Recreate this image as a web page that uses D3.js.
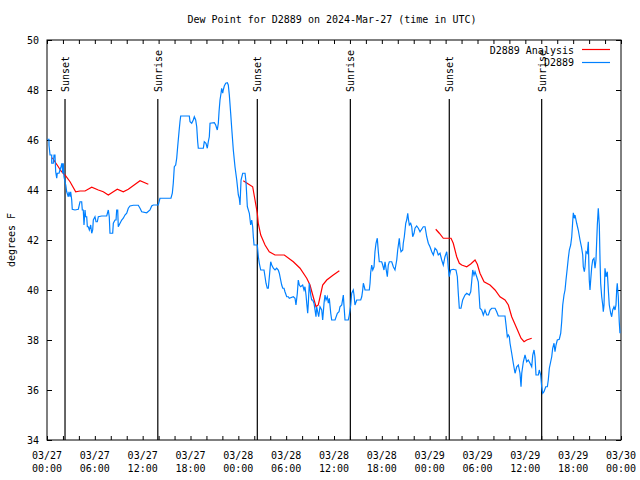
<!DOCTYPE html>
<html>
<head>
<meta charset="utf-8">
<script src="https://cdn.jsdelivr.net/npm/d3@7"></script>
<style>
  body { margin: 0; background: #fff; }
  text { font-family: "DejaVu Sans Mono", monospace; font-size: 10px; fill: #000; }
</style>
</head>
<body>
<div id="plot"></div>
<script>
// hours after 2024-03-27 00:00 UTC, dew point in F
const stationObs = [
  [0.04,46.03],[0.25,46.03],[0.25,45.8],[0.38,45.4],[0.59,45.4],[0.59,45.07],[0.79,45.07],[0.88,45.4],[1.0,45.4],
  [1.09,44.73],[1.22,44.47],[1.29,44.67],[1.51,44.67],[1.63,44.8],[1.76,44.93],[1.88,45.07],[1.97,44.67],[2.04,45.07],
  [2.13,44.53],[2.35,44.2],[2.47,43.93],[2.6,43.8],[2.67,43.73],[2.76,43.93],[2.89,43.73],[2.97,43.93],[3.1,43.6],
  [3.17,43.23],[3.51,43.2],[3.93,43.23],[4.14,43.53],[4.35,43.53],[4.43,43.2],[4.55,43.2],[4.64,42.6],[4.77,43.2],
  [4.85,42.93],[4.98,42.93],[5.06,42.53],[5.18,42.53],[5.31,42.4],[5.48,42.6],[5.61,42.27],[5.73,42.4],[5.81,42.8],
  [6.02,42.93],[6.15,42.73],[6.31,42.73],[6.44,42.93],[6.86,42.96],[7.49,42.96],[7.69,43.2],[7.81,42.93],[7.9,42.27],
  [8.24,42.27],[8.32,42.67],[8.53,42.8],[8.66,42.8],[8.74,43.2],[8.87,43.2],[8.94,42.53],[9.16,42.67],[9.37,42.8],
  [9.57,42.87],[9.78,43.0],[10.0,43.07],[10.2,43.27],[10.41,43.36],[10.83,43.39],[11.45,43.39],[11.67,43.27],
  [11.88,43.13],[12.51,43.09],[12.92,43.2],[13.13,43.36],[13.33,43.4],[13.96,43.4],[14.17,43.67],[15.55,43.67],
  [15.72,43.87],[15.84,44.27],[15.97,44.93],[16.14,45.0],[16.27,45.27],[16.39,45.73],[16.56,46.33],[16.68,46.73],
  [16.77,46.96],[17.85,46.96],[17.94,46.73],[18.15,46.67],[18.35,46.8],[18.48,46.93],[18.65,46.8],[18.78,46.53],
  [18.9,45.93],[18.98,45.67],[19.61,45.67],[19.73,45.93],[19.94,45.87],[20.11,45.67],[20.23,45.93],[20.36,46.13],
  [20.45,46.67],[20.99,46.69],[21.16,46.6],[21.36,46.4],[21.49,46.67],[21.58,47.13],[21.7,47.6],[21.83,47.87],
  [21.91,48.07],[22.04,47.87],[22.11,48.0],[22.24,48.16],[22.42,48.27],[22.62,48.29],[22.74,48.2],[22.87,47.8],
  [23.04,47.07],[23.17,46.47],[23.37,45.6],[23.58,44.93],[23.8,44.4],[24.0,43.8],[24.12,43.67],[24.21,43.4],
  [24.34,44.4],[24.55,44.67],[24.84,44.67],[24.96,44.33],[25.13,43.33],[25.38,43.07],[25.55,42.6],[25.68,42.8],
  [25.8,42.53],[25.88,42.13],[25.97,41.8],[26.38,41.8],[26.51,41.33],[26.63,41.07],[26.81,40.8],[27.22,40.8],
  [27.35,40.53],[27.47,40.27],[27.63,40.07],[27.76,40.07],[27.89,40.53],[28.06,41.13],[28.19,41.0],[28.39,40.87],
  [28.6,40.8],[28.81,40.87],[29.01,40.8],[29.14,40.67],[29.31,40.4],[29.44,40.2],[29.57,40.07],[29.73,40.07],
  [29.85,39.93],[30.07,39.73],[30.27,39.73],[30.39,39.67],[30.9,39.73],[31.11,39.67],[31.23,39.4],[31.4,39.87],
  [31.52,40.4],[31.65,40.2],[31.82,40.13],[32.07,40.2],[32.24,40.0],[32.36,40.13],[32.49,39.8],[32.58,39.47],
  [32.7,39.07],[32.78,39.47],[32.9,40.27],[33.08,39.8],[33.2,39.6],[33.33,39.6],[33.49,39.47],[33.62,39.2],
  [33.74,38.93],[33.83,39.33],[33.91,39.2],[34.08,38.93],[34.24,39.33],[34.46,39.2],[34.58,38.8],[34.75,39.47],
  [34.87,39.8],[35.0,39.6],[35.16,39.73],[35.29,39.47],[35.41,39.67],[35.59,39.07],[35.71,38.8],[36.13,38.8],
  [36.42,39.07],[36.63,39.13],[36.75,39.33],[36.97,39.4],[37.17,39.8],[37.25,39.4],[37.38,38.8],[37.79,38.8],
  [37.92,39.0],[38.1,39.4],[38.22,39.87],[38.42,40.0],[38.51,39.8],[38.63,39.4],[38.85,39.6],[39.35,39.6],
  [39.48,39.73],[39.6,40.0],[39.68,40.27],[39.8,40.13],[39.89,40.0],[40.43,40.0],[40.52,40.27],[40.6,40.69],
  [40.73,41.0],[40.86,40.8],[41.02,40.93],[41.14,41.53],[41.27,41.87],[41.43,42.07],[41.56,41.53],[41.68,41.13],
  [41.98,41.13],[42.11,41.0],[42.27,40.8],[42.4,41.13],[42.52,40.87],[42.69,40.53],[42.81,41.0],[42.94,41.13],
  [43.24,41.13],[43.44,40.93],[43.65,40.8],[43.87,41.2],[43.99,41.6],[44.19,42.07],[44.28,41.73],[44.41,41.53],
  [44.62,41.6],[44.69,41.87],[44.82,42.13],[45.0,42.67],[45.12,42.8],[45.25,43.07],[45.32,42.87],[45.45,42.6],
  [45.62,42.67],[45.75,42.53],[45.87,42.13],[46.04,42.27],[46.16,42.47],[46.37,42.56],[46.58,42.47],[46.79,42.33],
  [47.2,42.53],[47.42,42.53],[47.63,42.13],[47.83,41.87],[48.04,41.73],[48.26,41.53],[48.46,41.4],[48.67,41.67],
  [48.88,41.6],[49.08,41.4],[49.3,41.47],[49.51,41.2],[49.71,41.0],[49.92,41.33],[50.14,41.53],[50.26,41.2],
  [50.34,40.87],[50.46,40.53],[50.64,40.8],[50.96,40.83],[51.3,40.8],[51.47,40.53],[51.59,39.87],[51.72,39.27],
  [51.93,39.27],[52.14,39.6],[52.43,39.8],[52.65,39.87],[52.97,39.8],[53.15,39.93],[53.27,40.33],[53.4,40.8],
  [53.56,40.6],[53.69,40.73],[53.9,40.53],[54.1,40.33],[54.31,39.27],[54.53,39.2],[54.73,39.0],[54.94,39.2],
  [55.16,39.0],[55.36,39.0],[55.57,39.2],[55.78,39.27],[56.2,39.27],[56.41,39.13],[56.61,38.96],[57.45,38.96],
  [57.58,38.6],[57.74,38.13],[57.86,38.2],[57.99,38.13],[58.08,37.87],[58.29,37.47],[58.49,37.07],[58.71,36.67],
  [58.92,36.93],[59.12,37.0],[59.33,36.67],[59.46,36.13],[59.55,36.67],[59.75,37.13],[59.96,37.4],[60.17,37.13],
  [60.37,37.2],[60.59,37.07],[60.8,36.93],[60.93,37.4],[61.09,37.6],[61.21,37.33],[61.34,36.6],[61.63,36.6],
  [61.75,36.8],[61.93,36.6],[62.05,36.13],[62.18,35.87],[62.34,35.93],[62.56,36.13],[62.76,36.13],[62.88,36.4],
  [63.01,36.87],[63.18,37.13],[63.31,37.33],[63.43,37.67],[63.6,37.87],[63.72,37.53],[63.85,37.8],[64.01,38.0],
  [64.26,38.03],[64.44,38.27],[64.56,38.73],[64.69,39.4],[64.85,39.8],[64.98,40.0],[65.1,40.4],[65.26,40.87],
  [65.39,41.27],[65.52,41.6],[65.69,41.8],[65.82,42.13],[65.94,42.73],[66.02,43.09],[66.14,42.87],[66.23,43.0],
  [66.44,42.67],[66.64,42.4],[66.86,42.0],[67.07,41.67],[67.2,41.4],[67.27,40.93],[67.4,40.73],[67.49,40.93],
  [67.61,41.53],[67.77,41.47],[67.9,41.93],[68.02,40.4],[68.11,40.0],[68.2,40.4],[68.33,40.93],[68.45,41.2],
  [68.61,41.27],[68.74,40.87],[68.86,41.2],[69.03,42.6],[69.15,43.27],[69.28,42.6],[69.37,41.2],[69.45,40.27],
  [69.58,39.73],[69.71,39.4],[69.78,39.13],[69.87,39.4],[69.99,40.87],[70.12,40.53],[70.28,40.73],[70.41,40.0],
  [70.53,39.4],[70.71,39.07],[70.83,38.93],[70.96,39.2],[71.12,39.33],[71.25,39.2],[71.37,39.4],[71.46,40.0],
  [71.53,40.27],[71.66,39.73],[71.78,38.73],[71.87,38.27]
];

// analysis series, null = gap between runs
const analysisObs = [
  [0.66,45.29],[1.42,44.93],[1.72,44.77],[2.35,44.56],[2.89,44.33],[3.6,43.93],[4.14,43.96],[4.77,43.96],
  [5.61,44.11],[6.44,44.0],[7.06,43.93],[7.69,43.8],[8.32,43.93],[8.82,44.03],[9.57,43.93],[10.2,44.03],
  [11.67,44.37],[12.71,44.23],
  null,
  [24.62,44.37],[25.25,44.24],[25.8,44.13],[26.09,43.6],[26.38,43.07],[26.5,42.67],[26.81,42.2],[27.35,41.8],
  [27.88,41.53],[28.6,41.4],[29.77,41.4],[30.9,41.13],[31.74,40.87],[32.58,40.47],[32.99,40.2],[33.33,39.8],
  [33.74,39.33],[34.03,39.4],[34.58,40.2],[35.09,40.4],[35.91,40.6],[36.67,40.77],
  null,
  [48.76,42.43],[49.21,42.27],[49.71,42.07],[50.68,42.07],[50.96,41.87],[51.39,41.33],[51.72,41.07],[52.02,41.0],
  [52.65,40.93],[53.15,41.04],[53.69,41.2],[53.98,41.03],[54.31,40.67],[54.82,40.33],[55.57,40.2],[56.2,40.0],
  [56.82,39.73],[57.45,39.6],[57.87,39.4],[58.29,38.93],[58.92,38.47],[59.46,38.07],[59.84,37.93],[60.17,38.0],
  [60.8,38.07]
];

const sunEvents = [
  ["Sunset", 2.26], ["Sunrise", 13.9], ["Sunset", 26.38],
  ["Sunrise", 38.05], ["Sunset", 50.46], ["Sunrise", 62.05]
];

const yTicks = [34, 36, 38, 40, 42, 44, 46, 48, 50];

const start = Date.UTC(2024, 2, 27);
const toDate = h => new Date(start + h * 3600e3);

const width = 640, height = 480;
const plotLeft = 47, plotRight = 621, plotTop = 40, plotBottom = 440;

const svg = d3.select("#plot").append("svg")
  .attr("width", width)
  .attr("height", height);

const x = d3.scaleUtc()
  .domain([toDate(0), toDate(72)])
  .range([plotLeft, plotRight]);

const y = d3.scaleLinear()
  .domain([34, 50])
  .range([plotBottom, plotTop]);

const hourTicks = d3.utcHour.every(2).range(toDate(0), toDate(72.01));
const fmtDay = d3.utcFormat("%m/%d"), fmtTime = d3.utcFormat("%H:%M");

// axes, ticks pointing inward like gnuplot
svg.append("g")
  .attr("transform", `translate(0,${plotBottom})`)
  .call(d3.axisBottom(x).tickValues(hourTicks).tickSize(-4).tickFormat(""));
svg.append("g")
  .attr("transform", `translate(0,${plotTop})`)
  .call(d3.axisTop(x).tickValues(hourTicks).tickSize(-4).tickFormat(""));
svg.append("g")
  .attr("transform", `translate(${plotLeft},0)`)
  .call(d3.axisLeft(y).tickValues(yTicks).tickSize(-5).tickPadding(8).tickFormat(d3.format("d")));
svg.append("g")
  .attr("transform", `translate(${plotRight},0)`)
  .call(d3.axisRight(y).tickValues(yTicks).tickSize(-5).tickFormat(""));

svg.selectAll(".domain").remove();
svg.selectAll(".tick line").attr("stroke", "#000");
svg.selectAll(".tick text").attr("font-family", null).attr("font-size", null);

const labelTicks = hourTicks.filter(d => d.getUTCHours() % 6 === 0);
const xl = svg.append("g").selectAll("text")
  .data(labelTicks)
  .enter().append("text")
  .attr("text-anchor", "middle")
  .attr("x", d => x(d));
xl.append("tspan").attr("x", d => x(d)).attr("y", 459).text(d => fmtDay(d));
xl.append("tspan").attr("x", d => x(d)).attr("y", 472).text(d => fmtTime(d));

// frame
svg.append("rect")
  .attr("x", plotLeft).attr("y", plotTop)
  .attr("width", plotRight - plotLeft).attr("height", plotBottom - plotTop)
  .attr("fill", "none").attr("stroke", "#000");

// sunrise / sunset markers
const ev = svg.append("g").selectAll("g")
  .data(sunEvents)
  .enter().append("g");
ev.append("line")
  .attr("x1", d => x(toDate(d[1]))).attr("x2", d => x(toDate(d[1])))
  .attr("y1", 99).attr("y2", plotBottom)
  .attr("stroke", "#000").attr("stroke-width", 1.2);
ev.append("text")
  .attr("transform", d => `translate(${x(toDate(d[1])) + 4},92) rotate(-90)`)
  .text(d => d[0]);

const line = d3.line()
  .defined(d => d !== null)
  .x(d => x(toDate(d[0])))
  .y(d => y(d[1]));

svg.append("path")
  .datum(analysisObs)
  .attr("fill", "none")
  .attr("stroke", "#ff0000")
  .attr("stroke-width", 1.2)
  .attr("d", line);

svg.append("path")
  .datum(stationObs)
  .attr("fill", "none")
  .attr("stroke", "#0080ff")
  .attr("stroke-width", 1.2)
  .attr("d", line);

// legend
svg.append("text").attr("x", 574).attr("y", 54).attr("text-anchor", "end").text("D2889 Analysis");
svg.append("line").attr("x1", 582).attr("x2", 610).attr("y1", 49.5).attr("y2", 49.5)
  .attr("stroke", "#ff0000").attr("stroke-width", 1.2);
svg.append("text").attr("x", 574).attr("y", 66).attr("text-anchor", "end").text("D2889");
svg.append("line").attr("x1", 582).attr("x2", 610).attr("y1", 62.5).attr("y2", 62.5)
  .attr("stroke", "#0080ff").attr("stroke-width", 1.2);

// titles
svg.append("text")
  .attr("x", 332).attr("y", 23)
  .attr("text-anchor", "middle")
  .text("Dew Point for D2889 on 2024-Mar-27 (time in UTC)");

svg.append("text")
  .attr("transform", `translate(15,240) rotate(-90)`)
  .attr("text-anchor", "middle")
  .text("degrees F");
</script>
</body>
</html>
